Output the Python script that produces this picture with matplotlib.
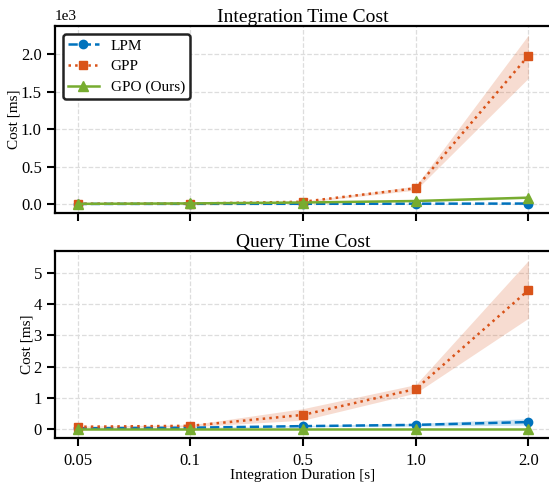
import numpy as np
import matplotlib
matplotlib.use("Agg")
import matplotlib.pyplot as plt

# datos
duraciones = ["0.05", "0.1", "0.5", "1.0", "2.0"]

# costo de integracion [ms]
integ_lpm = [1, 2, 3, 4, 6]
integ_lpm_lo = [0, 1, 2, 3, 4]
integ_lpm_hi = [2, 3, 4, 6, 9]
integ_gpp = [3, 6, 30, 210, 1980]
integ_gpp_lo = [2, 4, 22, 185, 1680]
integ_gpp_hi = [4, 9, 38, 240, 2255]
integ_gpo = [2, 8, 20, 40, 85]
integ_gpo_lo = [1, 6, 16, 34, 72]
integ_gpo_hi = [3, 10, 24, 46, 98]

# costo de consulta [ms]
query_lpm = [0.02, 0.04, 0.09, 0.13, 0.22]
query_lpm_lo = [0.01, 0.03, 0.07, 0.09, 0.12]
query_lpm_hi = [0.03, 0.05, 0.11, 0.18, 0.33]
query_gpp = [0.07, 0.10, 0.45, 1.28, 4.45]
query_gpp_lo = [0.05, 0.07, 0.28, 1.15, 3.55]
query_gpp_hi = [0.09, 0.13, 0.65, 1.42, 5.40]
query_gpo = [0.005, 0.005, 0.005, 0.005, 0.005]
query_gpo_lo = [0.0, 0.0, 0.0, 0.0, 0.0]
query_gpo_hi = [0.01, 0.01, 0.01, 0.01, 0.01]

plt.rcParams['font.family'] = ['Liberation Serif', 'DejaVu Serif']
plt.rcParams['mathtext.fontset'] = 'stix'

c_lpm = '#0072BD'
c_gpp = '#D95319'
c_gpo = '#77AC30'

x = np.arange(len(duraciones))

fig = plt.figure(figsize=(5.49, 4.83), dpi=100)
ax1 = fig.add_axes([0.1002, 0.559, 0.9035, 0.387])
ax2 = fig.add_axes([0.1002, 0.0932, 0.9035, 0.387])


def dibujar(ax, lpm, lpm_lo, lpm_hi, gpp, gpp_lo, gpp_hi, gpo, gpo_lo, gpo_hi, escala=1.0):
    ax.plot(x, np.array(lpm) / escala, color=c_lpm, linestyle='--', marker='o', markersize=6,
            linewidth=1.8, label='LPM', zorder=3)
    ax.fill_between(x, np.array(lpm_lo) / escala, np.array(lpm_hi) / escala, color=c_lpm, alpha=0.2, linewidth=0)
    ax.plot(x, np.array(gpp) / escala, color=c_gpp, linestyle=':', marker='s', markersize=6,
            linewidth=1.8, label='GPP', zorder=3)
    ax.fill_between(x, np.array(gpp_lo) / escala, np.array(gpp_hi) / escala, color=c_gpp, alpha=0.2, linewidth=0)
    ax.plot(x, np.array(gpo) / escala, color=c_gpo, linestyle='-', marker='^', markersize=7,
            linewidth=1.8, label='GPO (Ours)', zorder=3)
    ax.fill_between(x, np.array(gpo_lo) / escala, np.array(gpo_hi) / escala, color=c_gpo, alpha=0.2, linewidth=0)
    ax.grid(True, linestyle='--', color='#dddddd', linewidth=0.9)
    ax.set_axisbelow(True)
    for s in ax.spines.values():
        s.set_linewidth(1.6)
    ax.tick_params(direction='out', length=6, width=1.5, labelsize=12)
    ax.tick_params(axis='x', pad=5)
    ax.set_xlim(-0.2, 4.2)
    ax.set_xticks(x)
    ax.set_ylabel("Cost [ms]", fontsize=11, labelpad=0)


# grafico de integracion
dibujar(ax1, integ_lpm, integ_lpm_lo, integ_lpm_hi, integ_gpp, integ_gpp_lo, integ_gpp_hi,
        integ_gpo, integ_gpo_lo, integ_gpo_hi, escala=1000.0)
ax1.set_ylim(-0.12, 2.373)
ax1.set_yticks([0.0, 0.5, 1.0, 1.5, 2.0])
ax1.set_yticklabels(["0.0", "0.5", "1.0", "1.5", "2.0"])
ax1.text(0.0, 1.015, "1e3", transform=ax1.transAxes, fontsize=11, ha='left', va='bottom')
ax1.set_xticklabels([])
ax1.set_title("Integration Time Cost", fontsize=14, pad=2)
leg = ax1.legend(loc='upper left', fontsize=11, fancybox=True, framealpha=1.0,
                 edgecolor='#222222', borderpad=0.35, handlelength=2.0,
                 labelspacing=0.45)
leg.get_frame().set_linewidth(1.8)

# grafico de consulta
dibujar(ax2, query_lpm, query_lpm_lo, query_lpm_hi, query_gpp, query_gpp_lo, query_gpp_hi,
        query_gpo, query_gpo_lo, query_gpo_hi)
ax2.set_ylim(-0.29, 5.7)
ax2.set_yticks([0, 1, 2, 3, 4, 5])
ax2.set_xticklabels(duraciones)
ax2.set_title("Query Time Cost", fontsize=14, pad=2)
ax2.set_xlabel("Integration Duration [s]", fontsize=11, labelpad=0)

fig.savefig("out.png", dpi=100)
